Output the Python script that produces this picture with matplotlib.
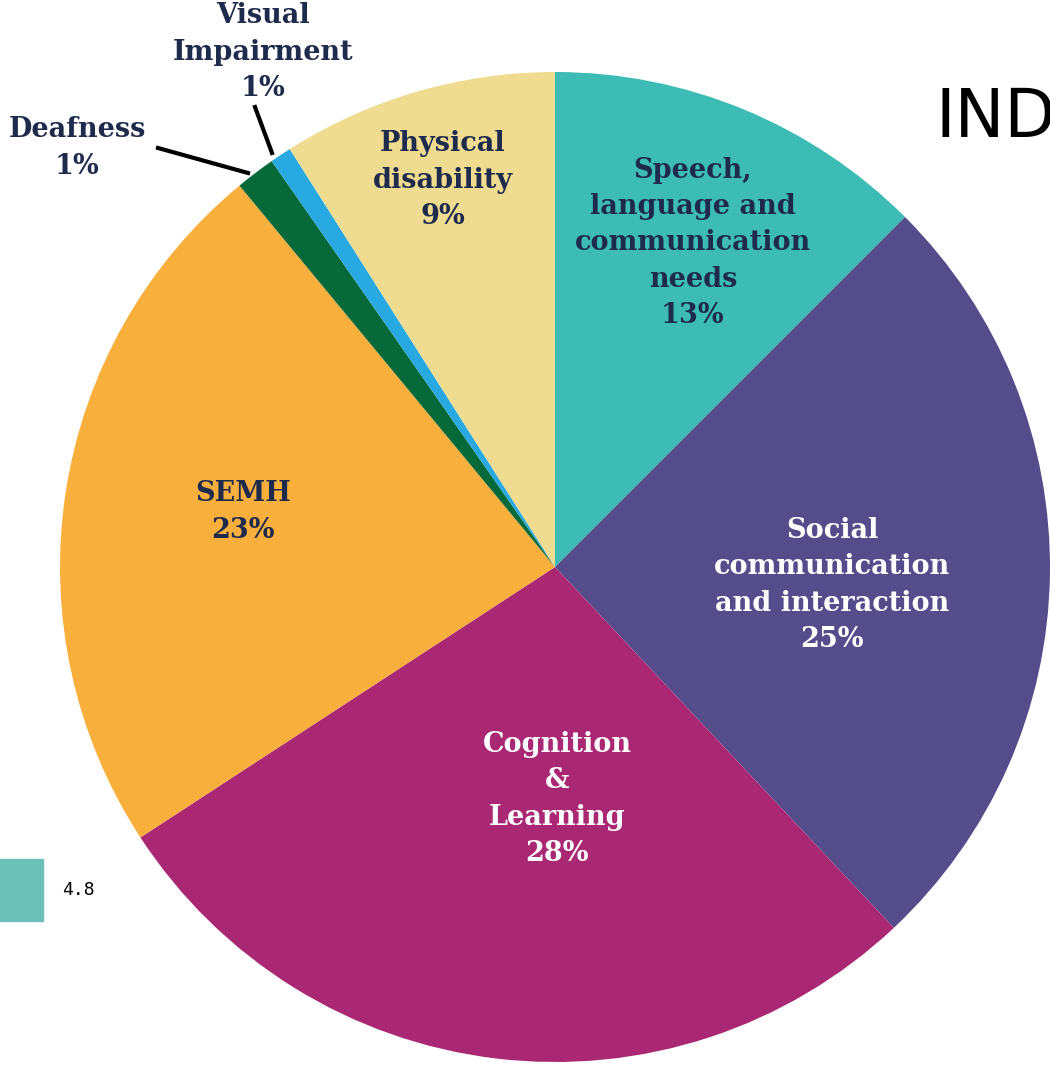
import matplotlib
matplotlib.use("Agg")
import matplotlib.pyplot as plt
from matplotlib.patches import Rectangle

categories = ["Speech,\nlanguage and\ncommunication\nneeds", "Social\ncommunication\nand interaction",
              "Cognition\n&\nLearning", "SEMH", "Deafness", "Visual\nImpairment", "Physical\ndisability"]
values = [12.5, 25.5, 27.8, 23.2, 1.3, 0.7, 9.0]
pct_labels = ["13%", "25%", "28%", "23%", "1%", "1%", "9%"]
colors = ["#3CBCB5", "#554C8C", "#AA2873", "#F8AF3C", "#05693A", "#29A9E1", "#F0DC91"]
text_colors = ["#1F2B4C", "white", "white", "#1F2B4C", "#1F2B4C", "#1F2B4C", "#1F2B4C"]

W, H = 1050, 1066
fig = plt.figure(figsize=(W / 100, H / 100), dpi=100)
ax = fig.add_axes([0, 0, 1, 1])
cx, cy, r = 555, H - 567, 495

wedges, _ = ax.pie(values, colors=colors, startangle=90, counterclock=False,
                   center=(cx, cy), radius=r, wedgeprops=dict(linewidth=0))

# label centres in pixels (from top-left), plus leader lines for the tiny slices
label_pos = [(693, 243), (832, 585), (557, 799), (243, 512), (77, 148), (263, 52), (443, 180)]
leaders = {4: ((158, 148), (248, 173)), 5: ((255, 107), (272, 153))}
font = dict(family="DejaVu Serif", weight="bold", fontsize=19.5, linespacing=1.43, ha="center", va="center")

for i in range(len(values)):
    tx, ty = label_pos[i]
    ax.text(tx, H - ty, categories[i] + "\n" + pct_labels[i], color=text_colors[i], **font)
    if i in leaders:
        p1, p2 = leaders[i]
        ax.plot([p1[0], p2[0]], [H - p1[1], H - p2[1]], color="black", lw=3)

ax.text(935, H - 137, "IND", fontsize=48, color="black", family="DejaVu Sans", va="baseline")
ax.add_patch(Rectangle((0, H - 921), 43, 62, color="#6CC0B8"))
ax.text(62, H - 890, "4.8", fontsize=13, family="DejaVu Sans Mono", va="center")

ax.set_xlim(0, W)
ax.set_ylim(0, H)
ax.set_aspect("auto")
ax.axis("off")
fig.savefig("out.png", dpi=100)
